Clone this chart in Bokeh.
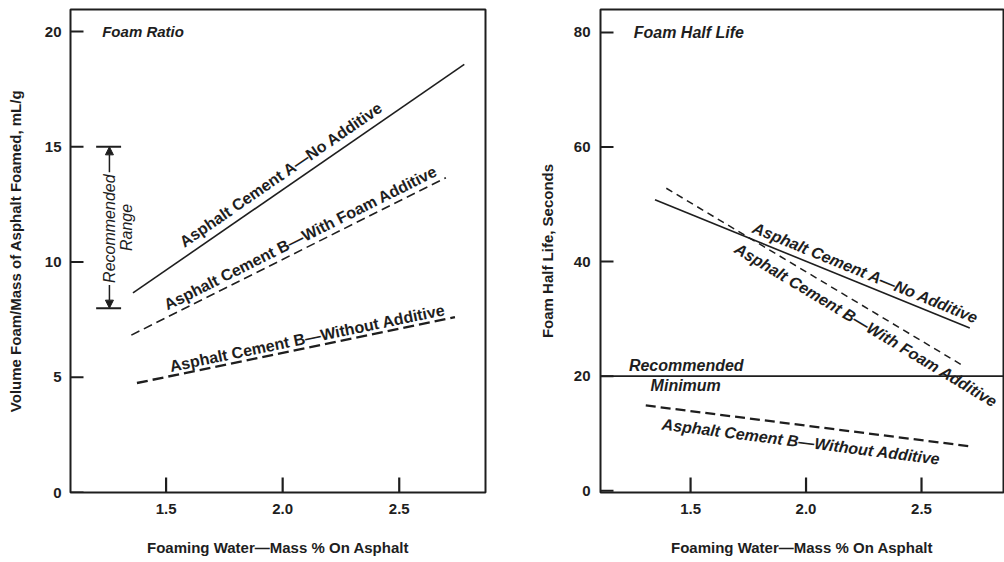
import math
from bokeh.plotting import figure
from bokeh.layouts import row
from bokeh.models import Span, Arrow, NormalHead, FixedTicker, NumeralTickFormatter, Range1d
from bokeh.core.properties import value
from bokeh.embed import file_html
from bokeh.resources import INLINE

FONT = "Liberation Sans"
INK = "#1e1e1e"

# ---------------- data ----------------
X_TICKS = [1.5, 2.0, 2.5]
RATIO_TICKS = [0, 5, 10, 15, 20]
HALF_TICKS = [0, 20, 40, 60, 80]

X_TITLE = "Foaming Water\u2014Mass % On Asphalt"
RATIO_TITLE = "Volume Foam/Mass of Asphalt Foamed, mL/g"
HALF_TITLE = "Foam Half Life, Seconds"

LBL_A = "Asphalt Cement A\u2014No Additive"
LBL_BF = "Asphalt Cement B\u2014With Foam Additive"
LBL_BN = "Asphalt Cement B\u2014Without Additive"

# Foam ratio (mL/g) vs foaming water
ratio_A_x = [1.358, 2.779]
ratio_A_y = [8.66, 18.58]
ratio_Bf_x = [1.351, 2.700]
ratio_Bf_y = [6.83, 13.66]
ratio_Bn_x = [1.375, 2.739]
ratio_Bn_y = [4.75, 7.61]
REC_RANGE = [8, 15]

# Foam half life (s) vs foaming water
half_A_x = [1.346, 2.709]
half_A_y = [50.8, 28.4]
half_Bf_x = [1.395, 2.673]
half_Bf_y = [52.8, 22.0]
half_Bn_x = [1.306, 2.723]
half_Bn_y = [14.9, 7.7]
REC_MIN = 20

# ---------------- layout ----------------
H = 562
BOTTOM = 70


def style(p, yticks, ytitle, ylab_stand, ystand, fw, fh):
    p.grid.visible = False
    p.outline_line_color = INK
    p.outline_line_width = 2
    p.background_fill_color = None
    p.border_fill_color = "white"
    for ax in (p.xaxis[0], p.yaxis[0]):
        ax.axis_line_color = None
        ax.major_tick_line_color = None
        ax.major_tick_out = 0
        ax.major_tick_in = 0
        ax.minor_tick_line_color = None
        ax.minor_tick_out = 0
        ax.minor_tick_in = 0
        ax.major_label_text_font = FONT
        ax.major_label_text_font_style = "bold"
        ax.major_label_text_font_size = "15px"
        ax.major_label_text_color = INK
        ax.axis_label_text_font = FONT
        ax.axis_label_text_font_style = "bold"
        ax.axis_label_text_font_size = "15px"
        ax.axis_label_text_color = INK
    p.xaxis.ticker = FixedTicker(ticks=X_TICKS)
    p.xaxis.formatter = NumeralTickFormatter(format="0.0")
    p.xaxis.axis_label = X_TITLE
    p.xaxis.major_label_standoff = 11
    p.xaxis.axis_label_standoff = 22
    p.yaxis.ticker = FixedTicker(ticks=yticks)
    p.yaxis.formatter = NumeralTickFormatter(format="0")
    p.yaxis.axis_label = ytitle
    p.yaxis.major_label_standoff = ylab_stand
    p.yaxis.axis_label_standoff = ystand
    # inward tick marks at the tick values
    xr, yr = p.x_range, p.y_range
    tx = 15 * (yr.end - yr.start) / fh
    ty = 13 * (xr.end - xr.start) / fw
    for t in X_TICKS:
        p.add_layout(Arrow(end=None, x_start=t, x_end=t, y_start=yr.start, y_end=yr.start + tx,
                           line_color=INK, line_width=2.2))
    for t in yticks:
        p.add_layout(Arrow(end=None, x_start=xr.start, x_end=xr.start + ty, y_start=t, y_end=t,
                           line_color=INK, line_width=2))


def angle_of(p, fw, fh, xs, ys):
    dx = (xs[1] - xs[0]) / (p.x_range.end - p.x_range.start) * fw
    dy = (ys[1] - ys[0]) / (p.y_range.end - p.y_range.start) * fh
    return math.atan2(dy, dx)


def lab(p, x, y, txt, ang, size="16px", style_="bold", align="center"):
    p.text(x=[x], y=[y], text=[txt], angle=ang, text_align=align,
           text_baseline="middle", text_font=value(FONT),
           text_font_style=style_, text_font_size=size, text_color=INK)


# ----- left: foam ratio -----
W1, L1, R1, T1 = 530, 70, 45, 9
fw1, fh1 = W1 - L1 - R1, H - T1 - BOTTOM
p1 = figure(width=W1, height=H, x_range=Range1d(1.09, 2.87), y_range=Range1d(0, 20.96),
            output_backend="svg", toolbar_location=None,
            min_border_left=L1, min_border_right=R1, min_border_top=T1,
            min_border_bottom=BOTTOM)
style(p1, RATIO_TICKS, RATIO_TITLE, 9, 18, fw1, fh1)

p1.line(ratio_A_x, ratio_A_y, line_color=INK, line_width=1.6)
p1.line(ratio_Bf_x, ratio_Bf_y, line_color=INK, line_width=1.6, line_dash="9 5")
p1.line(ratio_Bn_x, ratio_Bn_y, line_color=INK, line_width=2.4, line_dash="11 5")

lab(p1, 1.994, 13.80, LBL_A, angle_of(p1, fw1, fh1, ratio_A_x, ratio_A_y))
lab(p1, 2.077, 11.05, LBL_BF, angle_of(p1, fw1, fh1, ratio_Bf_x, ratio_Bf_y))
lab(p1, 2.106, 6.70, LBL_BN, angle_of(p1, fw1, fh1, ratio_Bn_x, ratio_Bn_y))
lab(p1, 1.226, 20.0, "Foam Ratio", 0, size="15px", style_="bold italic", align="left")

# recommended range marker
RX = 1.257
p1.segment(x0=[RX - 0.057] * 2, x1=[RX + 0.05] * 2, y0=REC_RANGE, y1=REC_RANGE,
           line_color=INK, line_width=2)
p1.add_layout(Arrow(end=NormalHead(size=8, fill_color=INK, line_color=INK),
                    x_start=RX, y_start=REC_RANGE[1] - 1.1, x_end=RX, y_end=REC_RANGE[1],
                    line_color=INK, line_width=1.5))
p1.add_layout(Arrow(end=NormalHead(size=8, fill_color=INK, line_color=INK),
                    x_start=RX, y_start=REC_RANGE[0] + 1.0, x_end=RX, y_end=REC_RANGE[0],
                    line_color=INK, line_width=1.5))
lab(p1, RX, 11.45, "Recommended", math.pi / 2, size="16px", style_="italic")
lab(p1, 1.33, 11.5, "Range", math.pi / 2, size="16px", style_="italic")

# ----- right: foam half life -----
W2, L2, R2, T2 = 474, 70, 1, 7
fw2, fh2 = W2 - L2 - R2, H - T2 - BOTTOM
p2 = figure(width=W2, height=H, x_range=Range1d(1.11, 2.855), y_range=Range1d(-0.3, 84.0),
            output_backend="svg", toolbar_location=None,
            min_border_left=L2, min_border_right=R2, min_border_top=T2,
            min_border_bottom=BOTTOM)
style(p2, HALF_TICKS, HALF_TITLE, 10, 15, fw2, fh2)

p2.line(half_A_x, half_A_y, line_color=INK, line_width=1.6)
p2.line(half_Bf_x, half_Bf_y, line_color=INK, line_width=1.5, line_dash="7 5")
p2.line(half_Bn_x, half_Bn_y, line_color=INK, line_width=2.2, line_dash="10 5")
p2.add_layout(Span(location=REC_MIN, dimension="width", line_color=INK, line_width=1.8))

lab(p2, 2.258, 38.0, LBL_A, angle_of(p2, fw2, fh2, half_A_x, half_A_y), style_="bold italic")
lab(p2, 2.26, 28.9, LBL_BF, angle_of(p2, fw2, fh2, half_Bf_x, half_Bf_y), style_="bold italic")
lab(p2, 1.979, 8.56, LBL_BN, angle_of(p2, fw2, fh2, half_Bn_x, half_Bn_y), style_="bold italic")
lab(p2, 1.233, 21.9, "Recommended", 0, style_="bold italic", align="left")
lab(p2, 1.327, 18.4, "Minimum", 0, style_="bold italic", align="left")
lab(p2, 1.254, 79.9, "Foam Half Life", 0, style_="bold italic", align="left")

layout = row(p1, p2)
open("out.html", "w").write(file_html(layout, INLINE))
